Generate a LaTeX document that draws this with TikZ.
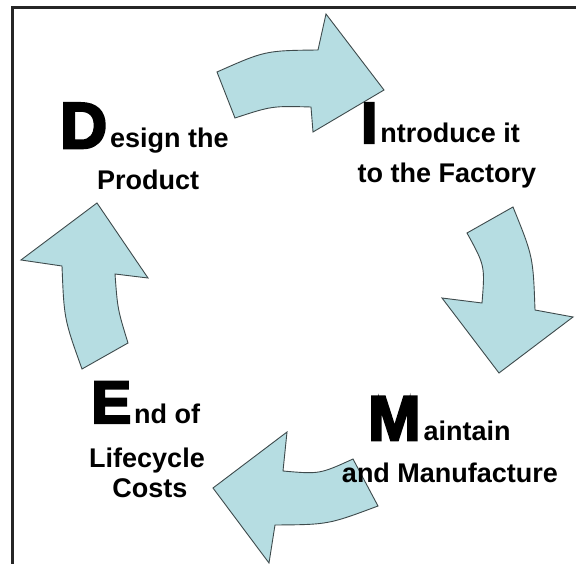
\documentclass[tikz,border=0pt]{standalone}
\usepackage{fontspec}
\setmainfont{Liberation Sans}
\newfontfamily\heavy[UprightFont={* Bold},FakeBold=4]{Liberation Sans}
\definecolor{arrowfill}{RGB}{182,221,226}
\definecolor{arrowline}{RGB}{62,74,76}
\definecolor{framegray}{RGB}{38,38,38}
\newcommand{\initial}[2]{{\heavy\fontsize{#1}{#1}\selectfont #2}}
\begin{document}
\begin{tikzpicture}[x=1pt,y=-1pt,
  cyclearrow/.style={fill=arrowfill,draw=arrowline,line width=0.9pt,line join=miter},
  caption/.style={inner sep=0pt,font=\fontsize{27}{31}\selectfont\bfseries,text=black}]
\useasboundingbox (0,0) rectangle (576,564);
\fill[white] (0,0) rectangle (576,564);
% open frame: left and top edges only
\draw[framegray,line width=3pt] (12.5,564) -- (12.5,7.5) -- (576,7.5);

% curved block arrows of the cycle
% Design -> Introduce
\draw[cyclearrow] (235,118) -- (217,72) .. controls (265.2,50.6) .. (318,50)
  -- (326,14) -- (384,90) -- (313,132) -- (311,107)
  .. controls (272,105.9) .. (235,118) -- cycle;
% Introduce -> Maintain
\draw[cyclearrow] (513,207) -- (467,233) .. controls (485,265.8) .. (482,303)
  -- (442,298) -- (499,373) -- (573,317) -- (535,310)
  .. controls (533.1,256.6) .. (513,207) -- cycle;
% Maintain -> End
\draw[cyclearrow] (353,459) -- (378,506) .. controls (328.2,524.6) .. (275,525)
  -- (269,563) -- (213,488) -- (287,432) -- (283,471)
  .. controls (319.6,474.2) .. (353,459) -- cycle;
% End -> Design
\draw[cyclearrow] (82,369) -- (128,343) .. controls (117.6,309.2) .. (115,274)
  -- (148,278) -- (97,203) -- (21,260) -- (62,266)
  .. controls (64.1,319) .. (82,369) -- cycle;

% stage captions
\node[caption,anchor=base west] (design) at (60,148) {\initial{65}{D}\kern3pt esign the};
\node[caption,anchor=base] (product) at (148,190) {Product};
\node[caption,anchor=base west] (introduce) at (361,143) {\initial{58}{I}\kern3pt ntroduce it};
\node[caption,anchor=base] (factory) at (447,183) {to the Factory};
\node[caption,anchor=base west] (maintain) at (368,440) {\initial{63}{M}\kern3pt aintain};
\node[caption,anchor=base] (manufacture) at (450,482) {and Manufacture};
\node[caption,anchor=base west] (endof) at (91,423) {\initial{60}{E}\kern3pt nd of};
\node[caption,anchor=base] (lifecycle) at (147,467) {Lifecycle};
\node[caption,anchor=base] (costs) at (150,497) {Costs};
\end{tikzpicture}
\end{document}
